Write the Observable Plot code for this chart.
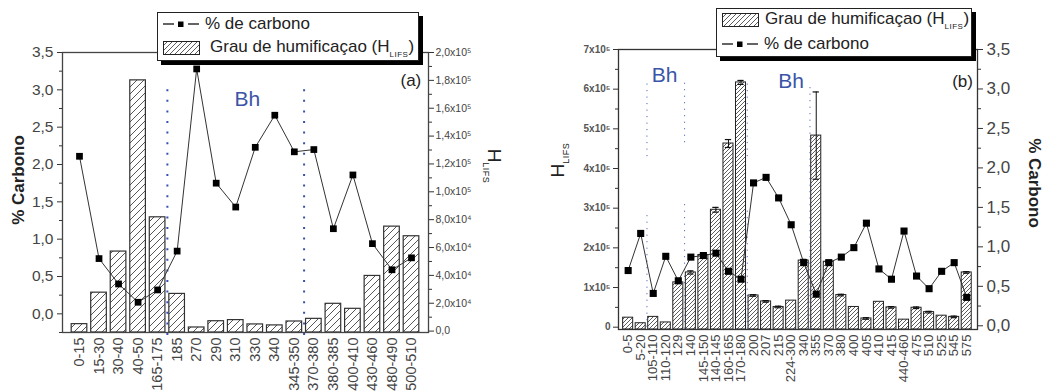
<!DOCTYPE html>
<html><head><meta charset="utf-8">
<script src="https://cdn.jsdelivr.net/npm/d3@7"></script>
<script src="https://cdn.jsdelivr.net/npm/@observablehq/plot@0.6"></script>
<style>
body{margin:0;background:#fff;font-family:"Liberation Sans",Arial,sans-serif;}
#wrap{position:relative;width:1053px;height:391px;overflow:hidden;background:#fff;}
.panel{position:absolute;top:0;}
.legend{position:absolute;background:#fff;border:1.5px solid #222;box-shadow:4px 4px 0 #000;font-size:17px;color:#222;box-sizing:border-box;}
.legend .row{position:absolute;display:flex;align-items:center;height:20px;white-space:nowrap;}
.legend svg{position:absolute;}
.sub{font-size:8px;vertical-align:-5px;letter-spacing:0.5px;}
.title{position:absolute;white-space:nowrap;color:#222;transform-origin:center center;}
</style></head><body><div id="wrap"></div>
<script>
// ---------- Panel (a) data ----------
const catsA = ["0-15","15-30","30-40","40-50","165-175","185","270","290","310","330","340","345-350","370-380","380-385","400-410","430-460","480-490","500-510"];
const hlifsA = [5000, 27600, 57100, 180000, 81700, 26700, 2600, 7100, 7900, 4800, 4100, 6900, 8800, 19600, 16000, 39600, 75000, 68100];
const carbonA = [2.11, 0.74, 0.40, 0.155, 0.32, 0.84, 3.28, 1.75, 1.43, 2.23, 2.66, 2.17, 2.20, 1.14, 1.86, 0.94, 0.59, 0.75];
const bhLinesA = [4.5, 11.5];

// ---------- Panel (b) data ----------
const catsB = ["0-5","5-20","105-110","110-120","129","140","145-150","140-145","160-165","170-180","200","207","215","224-300","340","355","370","380","400","405","410","415","440-460","475","510","525","545","575"];
const hlifsB = [24000, 10000, 26000, 12000, 113000, 138000, 182000, 296000, 463000, 617000, 80000, 65000, 51000, 67000, 168000, 483000, 165000, 81000, 51000, 22000, 64000, 50000, 19000, 49000, 38000, 29000, 26000, 138000];
const errB = [0, 0, 0, 0, 0, 4000, 2000, 6000, 10000, 5000, 2000, 2000, 2000, 0, 3000, 110000, 2000, 2000, 0, 2000, 0, 2000, 0, 2000, 2000, 0, 2000, 2000];
const carbonB = [0.70, 1.17, 0.41, 0.88, 0.57, 0.87, 0.89, 0.92, 0.69, 0.59, 1.81, 1.88, 1.62, 1.28, 0.80, 0.40, 0.80, 0.87, 0.99, 1.30, 0.72, 0.59, 1.20, 0.63, 0.47, 0.69, 0.80, 0.36];
const bhLinesB = [
  {x: 1.5, y1: 430000, y2: 615000}, {x: 1.5, y1: 0, y2: 285000},
  {x: 4.5, y1: 465000, y2: 615000}, {x: 4.5, y1: -5000, y2: 320000},
  {x: 9.5, y1: 430000, y2: 615000}, {x: 9.5, y1: -5000, y2: 300000},
  {x: 14.5, y1: -5000, y2: 605000}
];

const FONT = "Liberation Sans, Arial, sans-serif";
const sup = {4: "\u2074", 5: "\u2075"};
const fmt1 = v => d3.format(".1f")(v).replace(".", ",");

function addHatch(svg, id, size, sw, color) {
  let defs = d3.select(svg).select("defs");
  if (defs.empty()) defs = d3.select(svg).insert("defs", ":first-child");
  const p = defs.append("pattern").attr("id", id).attr("patternUnits", "userSpaceOnUse")
    .attr("width", size).attr("height", size);
  p.append("rect").attr("width", size).attr("height", size).attr("fill", "#fff");
  p.append("path").attr("d", `M0,${size} L${size},0 M-1,1 L1,-1 M${size-1},${size+1} L${size+1},${size-1}`)
    .attr("stroke", color).attr("stroke-width", sw).attr("fill", "none");
}

const wrap = document.getElementById("wrap");

// ================= Panel (a) =================
const yA = [-0.25, 3.5];
const rA = [-1000, 200000];
const toLeftA = r => yA[0] + (r - rA[0]) / (rA[1] - rA[0]) * (yA[1] - yA[0]);
const fromLeftA = l => rA[0] + (l - yA[0]) / (yA[1] - yA[0]) * (rA[1] - rA[0]);
const dataA = catsA.map((c, i) => ({i, c, h: hlifsA[i], carb: carbonA[i]}));
const sciA = v => {
  if (v === 0) return "0,0";
  const e = Math.floor(Math.log10(v) + 1e-9);
  return fmt1(v / 10 ** e) + "x10" + sup[e];
};
const majorLA = d3.range(0, 3.51, 0.5);
const minorLA = d3.range(-0.25, 3.51, 0.25).filter(v => Math.abs((v * 2) - Math.round(v * 2)) > 1e-6);
const majorRA = d3.range(0, 200001, 20000);
const minorRA = d3.range(10000, 200000, 20000);

const plotA = Plot.plot({
  width: 526, height: 391,
  marginLeft: 62, marginRight: 98, marginTop: 52, marginBottom: 59,
  x: {domain: [-0.87, 17.87], axis: null},
  y: {domain: yA, axis: null},
  style: {fontFamily: FONT, background: "transparent", color: "#333", overflow: "visible"},
  marks: [
    Plot.rect(dataA, {x1: d => d.i - 0.4, x2: d => d.i + 0.4, y1: () => yA[0], y2: d => toLeftA(d.h),
      fill: "url(#hatchA)", stroke: "#333", strokeWidth: 1.2}),
    Plot.ruleX(bhLinesA, {x: d => d, y1: () => -0.29, y2: () => 3.08, stroke: "#3451b2", strokeWidth: 2, strokeDasharray: "2,8.6"}),
    Plot.line(dataA, {x: "i", y: "carb", stroke: "#333", strokeWidth: 1}),
    Plot.dot(dataA, {x: "i", y: "carb", symbol: "square", r: 3.8, fill: "#000", stroke: "none"}),
    Plot.text(["Bh"], {x: () => 8.6, y: () => 2.87, text: d => d, fill: "#3a55a8", fontSize: 21}),
    Plot.text(["(a)"], {x: () => 17.5, y: () => 3.12, text: d => d, fill: "#222", fontSize: 17, textAnchor: "end"}),
    Plot.axisY(majorLA, {anchor: "left", tickSize: 5, tickPadding: 4, tickFormat: fmt1, fontSize: 15.5, fill: "#444", label: null}),
    Plot.axisY(minorLA, {anchor: "left", tickSize: 3, tickFormat: () => "", label: null}),
    Plot.axisY(majorRA.map(toLeftA), {anchor: "right", tickSize: 5, tickPadding: 2, fontSize: 10.5, fill: "#444", label: null,
      tickFormat: l => sciA(Math.round(fromLeftA(l) / 10000) * 10000)}),
    Plot.axisY(minorRA.map(toLeftA), {anchor: "right", tickSize: 3, tickFormat: () => "", label: null}),
    Plot.axisX(dataA.map(d => d.i), {anchor: "bottom", tickSize: 0, tickPadding: 5, tickRotate: -90, fontSize: 14.5, fill: "#444",
      tickFormat: i => catsA[i], label: null}),
    Plot.frame({stroke: "#444", strokeWidth: 1.3})
  ]
});
addHatch(plotA, "hatchA", 7, 0.9, "#444");
plotA.classList.add("panel");
plotA.style.left = "0px";
wrap.appendChild(plotA);

// ================= Panel (b) =================
const yB = [-5800, 700000];
const cB = [-0.047, 3.5];
const toLeftB = c => yB[0] + (c - cB[0]) / (cB[1] - cB[0]) * (yB[1] - yB[0]);
const fromLeftB = l => cB[0] + (l - yB[0]) / (yB[1] - yB[0]) * (cB[1] - cB[0]);
const dataB = catsB.map((c, i) => ({i, c, h: hlifsB[i], e: errB[i], carb: carbonB[i]}));
const errDataB = dataB.filter(d => d.e > 0);
const majorLB = d3.range(0, 700001, 100000);
const minorLB = d3.range(50000, 700000, 100000);
const majorRB = d3.range(0, 3.51, 0.5);
const minorRB = d3.range(0.25, 3.5, 0.5);

const plotB = Plot.plot({
  width: 527, height: 391,
  marginLeft: 92, marginRight: 76, marginTop: 49, marginBottom: 62,
  x: {domain: [-0.77, 27.86], axis: null},
  y: {domain: yB, axis: null},
  style: {fontFamily: FONT, background: "transparent", color: "#333", overflow: "visible"},
  marks: [
    Plot.rect(dataB, {x1: d => d.i - 0.4, x2: d => d.i + 0.4, y1: () => yB[0], y2: "h",
      fill: "url(#hatchB)", stroke: "#222", strokeWidth: 1}),
    Plot.ruleX(errDataB, {x: "i", y1: d => d.h - d.e, y2: d => d.h + d.e, stroke: "#111", strokeWidth: 1}),
    Plot.ruleY(errDataB, {x1: d => d.i - 0.25, x2: d => d.i + 0.25, y: d => d.h + d.e, stroke: "#111", strokeWidth: 1.2}),
    Plot.ruleY(errDataB, {x1: d => d.i - 0.25, x2: d => d.i + 0.25, y: d => d.h - d.e, stroke: "#111", strokeWidth: 1.2}),
    Plot.ruleX(bhLinesB, {x: "x", y1: "y1", y2: "y2", stroke: "#3451b2", strokeWidth: 1, strokeDasharray: "1,5.5"}),
    Plot.line(dataB, {x: "i", y: d => toLeftB(d.carb), stroke: "#333", strokeWidth: 1}),
    Plot.dot(dataB, {x: "i", y: d => toLeftB(d.carb), symbol: "square", r: 4, fill: "#000", stroke: "none"}),
    Plot.text(["Bh"], {x: () => 2.9, y: () => 634000, text: d => d, fill: "#3a55a8", fontSize: 21}),
    Plot.text(["Bh"], {x: () => 13.0, y: () => 619000, text: d => d, fill: "#3a55a8", fontSize: 21}),
    Plot.text(["(b)"], {x: () => 27.5, y: () => 619000, text: d => d, fill: "#222", fontSize: 17, textAnchor: "end"}),
    Plot.axisY(majorLB, {anchor: "left", tickSize: 5, tickPadding: 3, fontSize: 10, fontWeight: "bold", fill: "#555", label: null,
      tickFormat: v => v === 0 ? "0" : Math.round(v / 100000) + "x10" + sup[5]}),
    Plot.axisY(minorLB, {anchor: "left", tickSize: 3, tickFormat: () => "", label: null}),
    Plot.axisY(majorRB.map(toLeftB), {anchor: "right", tickSize: 5, tickPadding: 4, fontSize: 17, fill: "#444", label: null,
      tickFormat: l => fmt1(Math.round(fromLeftB(l) * 4) / 4)}),
    Plot.axisY(minorRB.map(toLeftB), {anchor: "right", tickSize: 3, tickFormat: () => "", label: null}),
    Plot.axisX(dataB.map(d => d.i), {anchor: "bottom", tickSize: 0, tickPadding: 5, tickRotate: -90, fontSize: 13, fill: "#444",
      tickFormat: i => catsB[i], label: null}),
    Plot.frame({stroke: "#333", strokeWidth: 1.3})
  ]
});
addHatch(plotB, "hatchB", 4, 0.8, "#333");
plotB.classList.add("panel");
plotB.style.left = "526px";
wrap.appendChild(plotB);

// ================= Legends & titles (HTML overlay) =================
function lineSym(w) {
  return `<svg width="${w}" height="10" style="left:0;top:0;position:relative;overflow:visible">
    <line x1="0" y1="5" x2="11" y2="5" stroke="#222" stroke-width="1.4"/>
    <rect x="15" y="2.5" width="5.5" height="5.5" fill="#000"/>
    <line x1="25" y1="5" x2="36" y2="5" stroke="#222" stroke-width="1.4"/></svg>`;
}
function hatchSym(id) {
  return `<svg width="37" height="14" style="position:relative;overflow:visible">
    <defs><pattern id="${id}" patternUnits="userSpaceOnUse" width="5" height="5">
      <rect width="5" height="5" fill="#fff"/>
      <path d="M0,5 L5,0 M-1,1 L1,-1 M4,6 L6,4" stroke="#333" stroke-width="0.8"/></pattern></defs>
    <rect x="0.5" y="0.5" width="36" height="13" fill="url(#${id})" stroke="#222" stroke-width="1"/></svg>`;
}
const grau = `Grau de humificaçao (H<span class="sub">LIFS</span>)`;

const legA = document.createElement("div");
legA.className = "legend";
legA.style.cssText = "left:157px;top:12px;width:262px;height:49px;";
legA.innerHTML = `
  <div class="row" style="left:5px;top:1px;">${lineSym(36)}<span style="margin-left:6px">% de carbono</span></div>
  <div class="row" style="left:5px;top:25px;">${hatchSym("legHatchA")}<span style="margin-left:10px">${grau}</span></div>`;
wrap.appendChild(legA);

const legB = document.createElement("div");
legB.className = "legend";
legB.style.cssText = "left:716px;top:8px;width:256px;height:49px;";
legB.innerHTML = `
  <div class="row" style="left:5px;top:1px;">${hatchSym("legHatchB")}<span style="margin-left:6px">${grau}</span></div>
  <div class="row" style="left:5px;top:25px;">${lineSym(36)}<span style="margin-left:6px">% de carbono</span></div>`;
wrap.appendChild(legB);

function title(html, cx, cy, rot, css) {
  const d = document.createElement("div");
  d.className = "title";
  d.innerHTML = html;
  d.style.cssText += css;
  wrap.appendChild(d);
  const w = d.offsetWidth, h = d.offsetHeight;
  d.style.left = (cx - w / 2) + "px";
  d.style.top = (cy - h / 2) + "px";
  d.style.transform = `rotate(${rot}deg)`;
}
title("% Carbono", 19, 180, -90, "font-size:17px;font-weight:bold;");
title(`H<span class="sub" style="font-size:9px;vertical-align:-5px">LIFS</span>`, 493, 166, 90, "font-size:19px;");
title(`H<span class="sub" style="font-size:9px;vertical-align:-5px">LIFS</span>`, 559, 160, -90, "font-size:19px;");
title("% Carbono", 1034, 183, 90, "font-size:17px;font-weight:bold;");
</script>
</body></html>
